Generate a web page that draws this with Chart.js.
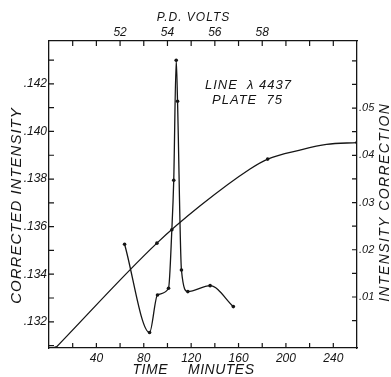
<!DOCTYPE html>
<html>
<head>
<meta charset="utf-8">
<script src="https://cdn.jsdelivr.net/npm/chart.js@4/dist/chart.umd.min.js"></script>
<style>
  html, body { margin: 0; padding: 0; background: #fff; }
  #wrap { width: 391px; height: 377px; position: relative; }
</style>
</head>
<body>
<div id="wrap"><canvas id="c" width="391" height="377"></canvas></div>
<script>
// ---- data ----
const timeIntensity = [63.8, 84.9, 91.6, 100.9, 103.7, 105.3, 107.4, 108.5, 111.8, 117.2, 136.0, 155.6];
const correctedIntensity = [0.13526, 0.13155, 0.13313, 0.13341, 0.13587, 0.13795, 0.14299, 0.14127, 0.13418, 0.13327, 0.13352, 0.13264];

const timeCorrection = [5.5, 91.1, 127.6, 169.7, 184.6, 211.8, 234.3, 260];
const intensityCorrection = [-0.0008, 0.0214, 0.0293, 0.0371, 0.0392, 0.0411, 0.0423, 0.0427];
const correctionMarked = [0, 1, 4, 7];

const timeTicks = [20, 40, 60, 80, 100, 120, 140, 160, 180, 200, 220, 240];
const timeLabels = [40, 80, 120, 160, 200, 240];
const voltTicks = [50, 51, 52, 53, 54, 55, 56, 57, 58, 59, 60, 61];
const voltLabels = [52, 54, 56, 58];
const intensityTicks = [0.131, 0.132, 0.133, 0.134, 0.135, 0.136, 0.137, 0.138, 0.139, 0.140, 0.141, 0.142, 0.143];
const intensityLabels = ['.132', '.134', '.136', '.138', '.140', '.142'];
const correctionTicks = [0.005, 0.01, 0.015, 0.02, 0.025, 0.03, 0.035, 0.04, 0.045, 0.05, 0.055, 0.06];
const correctionLabels = ['.01', '.02', '.03', '.04', '.05'];

// ---- chart ----
const INK = '#151515';
const FONT = "'Liberation Sans', 'DejaVu Sans', sans-serif";
const tickFont = { family: FONT, style: 'italic', size: 12 };
const rightTickFont = { family: FONT, style: 'italic', size: 11 };

function fmtIntensity(v) { return '.' + Math.round(v * 1000); }
function fmtCorrection(v) { return '.' + String(Math.round(v * 100)).padStart(2, '0'); }

const intensityData = timeIntensity.map((t, i) => ({ x: t, y: correctedIntensity[i] }));
const correctionData = timeCorrection.map((t, i) => ({ x: t, y: intensityCorrection[i] }));

const inwardTicks = {
  id: 'inwardTicks',
  afterDatasetsDraw(chart) {
    const ctx = chart.ctx;
    const a = chart.chartArea;
    const L = 5;
    ctx.save();
    ctx.strokeStyle = INK;
    ctx.lineWidth = 1.2;
    ctx.beginPath();
    for (const id of Object.keys(chart.scales)) {
      const s = chart.scales[id];
      for (const t of s.ticks) {
        const p = s.getPixelForValue(t.value);
        if (s.position === 'bottom') { ctx.moveTo(p, a.bottom); ctx.lineTo(p, a.bottom - L); }
        else if (s.position === 'top') { ctx.moveTo(p, a.top); ctx.lineTo(p, a.top + L); }
        else if (s.position === 'left') { ctx.moveTo(a.left, p); ctx.lineTo(a.left + L, p); }
        else if (s.position === 'right') { ctx.moveTo(a.right, p); ctx.lineTo(a.right - L, p); }
      }
    }
    ctx.stroke();
    ctx.restore();
  }
};

const texts = {
  id: 'texts',
  afterDraw(chart) {
    const ctx = chart.ctx;
    ctx.save();
    ctx.fillStyle = INK;
    ctx.textAlign = 'center';
    ctx.textBaseline = 'middle';
    function put(str, x, y, size, spacing, rot) {
      ctx.save();
      ctx.font = 'italic ' + size + 'px ' + FONT;
      ctx.letterSpacing = (spacing || 0) + 'px';
      ctx.translate(x, y);
      if (rot) ctx.rotate(rot);
      ctx.fillText(str, (spacing || 0) / 2, 0);
      ctx.restore();
    }
    put('P.D. VOLTS', 193, 18, 12, 1);
    put('TIME', 150, 370, 14, 0.5);
    put('MINUTES', 221, 370, 14, 0.5);
    put('CORRECTED INTENSITY', 17, 206, 15, 1, -Math.PI / 2);
    put('INTENSITY CORRECTION', 385, 203, 14, 1.4, -Math.PI / 2);
    put('LINE  \u03BB 4437', 248, 85, 13, 1);
    put('PLATE  75', 247, 100, 13, 1);
    ctx.restore();
  }
};

function fixedSize(prop, v) { return function (scale) { scale[prop] = v; }; }

new Chart(document.getElementById('c'), {
  type: 'line',
  data: {
    datasets: [
      {
        label: 'Corrected intensity',
        data: intensityData,
        xAxisID: 'x',
        yAxisID: 'y',
        borderColor: INK,
        backgroundColor: INK,
        borderWidth: 1.3,
        cubicInterpolationMode: 'monotone',
        pointRadius: 1.8,
        pointBorderWidth: 0,
        fill: false
      },
      {
        label: 'Intensity correction',
        data: correctionData,
        xAxisID: 'x',
        yAxisID: 'y2',
        borderColor: INK,
        backgroundColor: INK,
        borderWidth: 1.3,
        cubicInterpolationMode: 'monotone',
        pointRadius: (c) => correctionMarked.includes(c.dataIndex) ? 1.8 : 0,
        pointBorderWidth: 0,
        fill: false
      }
    ]
  },
  options: {
    responsive: false,
    animation: false,
    devicePixelRatio: 1,
    layout: { padding: 0 },
    plugins: { legend: { display: false }, tooltip: { enabled: false } },
    scales: {
      x: {
        type: 'linear', position: 'bottom', min: 0, max: 260,
        afterFit: fixedSize('height', 29),
        afterBuildTicks: (s) => { s.ticks = timeTicks.map(v => ({ value: v })); },
        grid: { display: false, drawTicks: false },
        border: { display: true, color: INK, width: 1.3 },
        ticks: {
          autoSkip: false, maxRotation: 0, padding: 3, color: INK, font: tickFont,
          callback: (v) => timeLabels.includes(v) ? String(v) : ''
        }
      },
      x2: {
        type: 'linear', position: 'top', min: 49, max: 62,
        afterFit: fixedSize('height', 41),
        afterBuildTicks: (s) => { s.ticks = voltTicks.map(v => ({ value: v })); },
        grid: { display: false, drawTicks: false },
        border: { display: true, color: INK, width: 1.3 },
        ticks: {
          autoSkip: false, maxRotation: 0, padding: 1, color: INK, font: tickFont,
          callback: (v) => voltLabels.includes(v) ? String(v) : ''
        }
      },
      y: {
        type: 'linear', position: 'left', min: 0.1309, max: 0.1438,
        afterFit: fixedSize('width', 49),
        afterBuildTicks: (s) => { s.ticks = intensityTicks.map(v => ({ value: v })); },
        grid: { display: false, drawTicks: false },
        border: { display: true, color: INK, width: 1.3 },
        ticks: {
          autoSkip: false, padding: 2, color: INK, font: tickFont,
          callback: (v) => intensityLabels.includes(fmtIntensity(v)) && Math.round(v * 1000) % 2 === 0 ? fmtIntensity(v) : ''
        }
      },
      y2: {
        type: 'linear', position: 'right', min: -0.0008, max: 0.0642,
        afterFit: fixedSize('width', 34),
        afterBuildTicks: (s) => { s.ticks = correctionTicks.map(v => ({ value: v })); },
        grid: { display: false, drawTicks: false },
        border: { display: true, color: INK, width: 1.3 },
        ticks: {
          autoSkip: false, padding: 2, color: INK, font: rightTickFont,
          callback: (v) => {
            const s = fmtCorrection(v);
            return (Math.round(v * 1000) % 10 === 0 && correctionLabels.includes(s)) ? s : '';
          }
        }
      }
    }
  },
  plugins: [inwardTicks, texts]
});
</script>
</body>
</html>
